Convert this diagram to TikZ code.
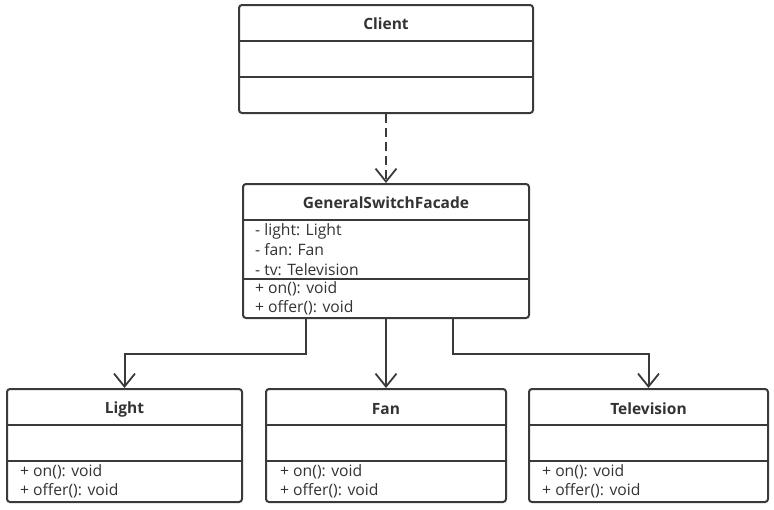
\documentclass[tikz,border=0pt]{standalone}
\usepackage{fontspec}
\setmainfont{Open Sans}
\usetikzlibrary{arrows.meta,calc}
\definecolor{ln}{HTML}{3A3A3A}
\definecolor{tx}{HTML}{333333}
\tikzset{
  umlbox/.style={draw=ln, line width=2pt, rounded corners=3pt, fill=white, inner sep=0pt},
  divider/.style={draw=ln, line width=1.6pt},
  title/.style={font=\fontsize{15.5}{17}\selectfont\bfseries, text=tx, inner sep=0pt, anchor=center},
  member/.style={font=\fontsize{15.7}{17}\selectfont, text=tx, inner sep=0pt, anchor=west},
  conn/.style={draw=ln, line width=2pt, -{Straight Barb[length=13pt,width=21pt,line width=1.8pt]}},
}
\begin{document}
\begin{tikzpicture}[x=1pt,y=-1pt]
\useasboundingbox (0,0) rectangle (774,509);
% Client
\node[umlbox, minimum width=294pt, minimum height=108pt] (client) at (386,59) {};
\draw[divider] (client.west |- 0,41) -- (client.east |- 0,41);
\draw[divider] (client.west |- 0,77) -- (client.east |- 0,77);
\node[title] (clientT) at (386,24) {Client};
% Facade
\node[umlbox, minimum width=286pt, minimum height=134pt] (gsf) at (386,251) {};
\draw[divider] (gsf.west |- 0,220) -- (gsf.east |- 0,220);
\draw[divider] (gsf.west |- 0,279) -- (gsf.east |- 0,279);
\node[title] (gsfT) at (386,203) {GeneralSwitchFacade};
\node[member] (g1) at (255,231) {- light: Light};
\node[member] (g2) at (255,250) {- fan: Fan};
\node[member] (g3) at (255,269.5) {- tv: Television};
\node[member] (g4) at (255,289) {+ on(): void};
\node[member] (g5) at (255,308) {+ offer(): void};
% Light
\node[umlbox, minimum width=235pt, minimum height=113pt] (light) at (124.5,445.5) {};
\draw[divider] (light.west |- 0,425) -- (light.east |- 0,425);
\draw[divider] (light.west |- 0,461) -- (light.east |- 0,461);
\node[title] (lightT) at (124.5,409) {Light};
\node[member] (l1) at (20,471.5) {+ on(): void};
\node[member] (l2) at (20,490.5) {+ offer(): void};
% Fan
\node[umlbox, minimum width=240pt, minimum height=113pt] (fan) at (386,445.5) {};
\draw[divider] (fan.west |- 0,425) -- (fan.east |- 0,425);
\draw[divider] (fan.west |- 0,461) -- (fan.east |- 0,461);
\node[title] (fanT) at (386,409) {Fan};
\node[member] (f1) at (280,471.5) {+ on(): void};
\node[member] (f2) at (280,490.5) {+ offer(): void};
% Television
\node[umlbox, minimum width=239pt, minimum height=113pt] (tv) at (648.5,445.5) {};
\draw[divider] (tv.west |- 0,425) -- (tv.east |- 0,425);
\draw[divider] (tv.west |- 0,461) -- (tv.east |- 0,461);
\node[title] (tvT) at (648.5,409) {Television};
\node[member] (t1) at (542,471.5) {+ on(): void};
\node[member] (t2) at (542,490.5) {+ offer(): void};
% connectors
\draw[conn, dash pattern=on 9pt off 5pt] (client.south) -- (gsf.north);
\draw[conn] ([xshift=-80pt]gsf.south) -- ++(0,34.5) -| (light.north);
\draw[conn] (gsf.south) -- (fan.north);
\draw[conn] ([xshift=67pt]gsf.south) -- ++(0,34.5) -| (tv.north);
\end{tikzpicture}
\end{document}
